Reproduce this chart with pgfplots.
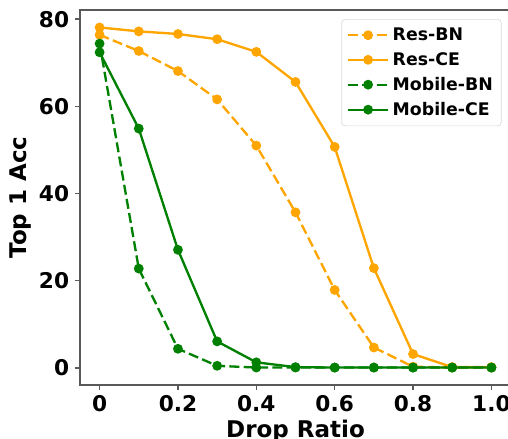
\documentclass[border=0pt]{standalone}
\usepackage{fontspec}
\setmainfont{DejaVu Sans}
\usepackage{pgfplots}
\pgfplotsset{compat=1.18}
\definecolor{morange}{HTML}{FFA500}
\definecolor{mgreen}{HTML}{008000}
\definecolor{spine}{rgb}{0.35,0.35,0.35}
\begin{document}
\begin{tikzpicture}
\begin{axis}[
  at={(0,0)}, anchor=south west,
  scale only axis, width=258.6pt, height=225pt,
  xmin=-0.05, xmax=1.05, ymin=-3.9, ymax=82.1,
  axis line style={spine, line width=1.2pt},
  xtick={0,0.2,0.4,0.6,0.8,1.0},
  xticklabels={0,0.2,0.4,0.6,0.8,1.0},
  ytick={0,20,40,60,80},
  tick align=outside, xtick pos=bottom, ytick pos=left,
  major tick length=3pt,
  tick style={spine, line width=0.8pt},
  /pgf/number format/assume math mode=true,
  ticklabel style={font=\bfseries\fontsize{13}{13}\selectfont},
  xlabel={Drop Ratio}, ylabel={Top 1 Acc},
  label style={font=\bfseries\fontsize{13.8}{14}\selectfont},
  xlabel style={yshift=2pt},
  ylabel style={yshift=-2pt},
  legend style={at={(0.978,0.976)}, anchor=north east, draw=black!15, rounded corners=2pt,
    font=\bfseries\fontsize{10.4}{10.4}\selectfont, row sep=1.6pt, inner xsep=3pt, inner ysep=3pt},
  legend cell align=left,
  legend image code/.code={
    \draw[#1, mark=none] (0cm,0cm) -- (0.85cm,0cm);
    \draw[#1, solid] plot coordinates {(0.425cm,0cm)};
  },
  every axis plot/.append style={line width=1.4pt, mark=*, mark size=2.2pt, mark options={solid}},
]
\addplot[morange, dash pattern=on 6pt off 2.6pt] coordinates {
(0,76.4) (0.1,72.7) (0.2,68.1) (0.3,61.6) (0.4,51.0) (0.5,35.7) (0.6,17.9) (0.7,4.7) (0.8,0.3) (0.9,0.1) (1.0,0.1)};
\addlegendentry{Res-BN}
\addplot[morange] coordinates {
(0,78.1) (0.1,77.2) (0.2,76.6) (0.3,75.4) (0.4,72.5) (0.5,65.6) (0.6,50.7) (0.7,22.9) (0.8,3.2) (0.9,0.2) (1.0,0.2)};
\addlegendentry{Res-CE}
\addplot[mgreen, dash pattern=on 6pt off 2.6pt] coordinates {
(0,74.4) (0.1,22.8) (0.2,4.4) (0.3,0.5) (0.4,0.1) (0.5,0.1) (0.6,0.1) (0.7,0.1) (0.8,0.1) (0.9,0.1) (1.0,0.1)};
\addlegendentry{Mobile-BN}
\addplot[mgreen] coordinates {
(0,72.4) (0.1,54.9) (0.2,27.1) (0.3,6.1) (0.4,1.3) (0.5,0.2) (0.6,0.1) (0.7,0.1) (0.8,0.1) (0.9,0.1) (1.0,0.1)};
\addlegendentry{Mobile-CE}
\end{axis}
\pgfresetboundingbox
\useasboundingbox (-48pt,-31.8pt) rectangle (256.8pt,231pt);
\end{tikzpicture}
\end{document}
